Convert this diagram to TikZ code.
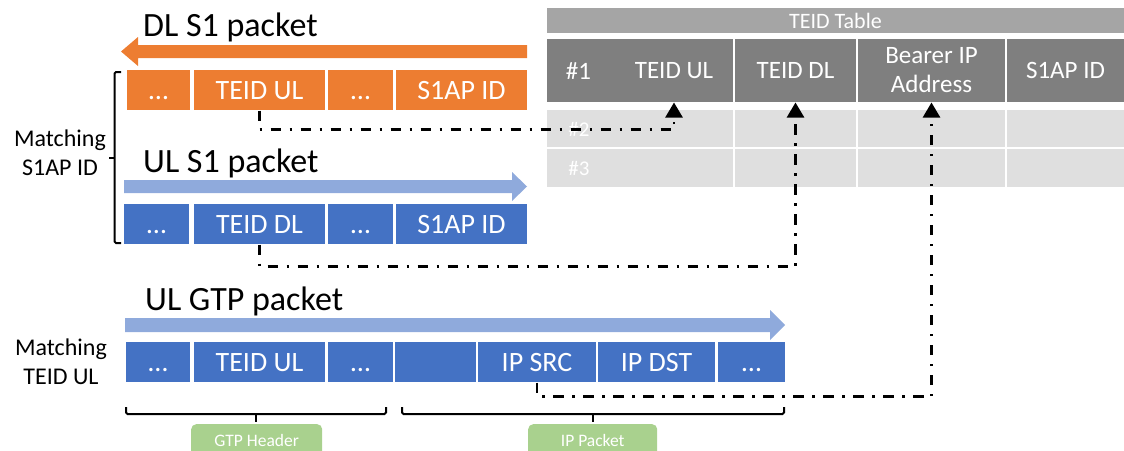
\documentclass[tikz,border=0pt]{standalone}
\usepackage{fontspec}
\setmainfont{Carlito}
\usetikzlibrary{arrows.meta}
\definecolor{cOr}{HTML}{ED7D31}
\definecolor{cBl}{HTML}{4472C4}
\definecolor{cLb}{HTML}{8FAADC}
\definecolor{cDg}{HTML}{7F7F7F}
\definecolor{cMg}{HTML}{A5A5A5}
\definecolor{cLg}{HTML}{DFDFDF}
\definecolor{cGr}{HTML}{A9D18E}
\begin{document}
\begin{tikzpicture}[x=1pt,y=-1pt,
  fbox/.style={inner sep=0pt, outer sep=0pt, anchor=north west, text=white,
    font=\fontsize{28}{30}\selectfont, draw=white, line width=1.5pt,
    text height=18pt, text depth=0pt},
  obox/.style={fbox, fill=cOr},
  bbox/.style={fbox, fill=cBl},
  tcell/.style={inner sep=0pt, outer sep=0pt, anchor=north west, draw=white, line width=1.5pt, fill=cDg},
  lcell/.style={inner sep=0pt, outer sep=0pt, anchor=north west, draw=white, line width=1.5pt, fill=cLg},
  ttext/.style={inner sep=0pt, text=white, font=\fontsize{25}{29}\selectfont, align=center},
  title/.style={inner sep=0pt, anchor=base west, font=\fontsize{34}{36}\selectfont},
  side/.style={inner sep=0pt, align=center, font=\fontsize{24}{29}\selectfont},
  dd/.style={line width=2.5pt, dash pattern=on 10.5pt off 8.5pt on 2.5pt off 8.5pt,
    -{Triangle[width=17pt,length=15pt]}},
  brk/.style={line width=2pt, rounded corners=1.5pt},
  glabel/.style={inner sep=0pt, anchor=north west, fill=cGr, rounded corners=5pt,
    text=white, font=\fontsize{17.5}{20}\selectfont, minimum height=32pt}
]
\useasboundingbox (0,0) rectangle (1124,450);

% ---- titles and arrows
\node[title] (t1) at (143,36) {DL S1 packet};
\node[title] (t2) at (143,172) {UL S1 packet};
\node[title] (t3) at (145,310) {UL GTP packet};

\fill[cOr] (527,45) -- (138,45) -- (138,37) -- (121,51.5) -- (138,66) -- (138,58) -- (527,58) -- cycle;
\fill[cLb] (124,180) -- (512,180) -- (512,172) -- (527,186.5) -- (512,201) -- (512,193) -- (124,193) -- cycle;
\fill[cLb] (125,318) -- (770,318) -- (770,310) -- (785,325) -- (770,340) -- (770,332) -- (125,332) -- cycle;

% ---- DL S1 packet fields
\node[obox, minimum width=65pt, minimum height=41pt] (o1) at (126,69.5) {…};
\node[obox, minimum width=132pt, minimum height=41pt] (o2) at (193.5,69.5) {TEID UL};
\node[obox, minimum width=66pt, minimum height=41pt] (o3) at (327.5,69.5) {…};
\node[obox, minimum width=132pt, minimum height=41pt] (o4) at (395.5,69.5) {S1AP ID};

% ---- UL S1 packet fields
\node[bbox, minimum width=67pt, minimum height=41pt] (b1) at (123,203.5) {…};
\node[bbox, minimum width=132pt, minimum height=41pt] (b2) at (193.5,203.5) {TEID DL};
\node[bbox, minimum width=66pt, minimum height=41pt] (b3) at (327.5,203.5) {…};
\node[bbox, minimum width=132pt, minimum height=41pt] (b4) at (395.5,203.5) {S1AP ID};

% ---- UL GTP packet fields
\node[bbox, minimum width=66pt, minimum height=41pt] (g1) at (125,341.5) {…};
\node[bbox, minimum width=132pt, minimum height=41pt] (g2) at (193.5,341.5) {TEID UL};
\node[bbox, minimum width=66pt, minimum height=41pt] (g3) at (327.5,341.5) {…};
\node[bbox, minimum width=82pt, minimum height=41pt] (g4) at (394.5,341.5) {};
\node[bbox, minimum width=119pt, minimum height=41pt] (g5) at (477.5,341.5) {IP SRC};
\node[bbox, minimum width=118pt, minimum height=41pt] (g6) at (597.5,341.5) {IP DST};
\node[bbox, minimum width=68pt, minimum height=41pt] (g7) at (717.5,341.5) {…};

% ---- side labels and brackets
\node[side] (m1) at (60,153) {Matching\\S1AP ID};
\node[side] (m2) at (61,362) {Matching\\TEID UL};
\draw[brk] (121,72) -- (114.5,72) -- (114.5,243) -- (121,243);
\draw[line width=2pt] (114.5,158) -- (109,158);

\draw[brk] (126,407) -- (126,414) -- (386,414) -- (386,407);
\draw[line width=2pt] (256,414) -- (256,422);
\draw[brk] (402,407) -- (402,414) -- (784,414) -- (784,407);
\draw[line width=2pt] (593,414) -- (593,422);

\node[glabel, minimum width=131pt] (gh) at (191,424) {GTP Header};
\node[glabel, minimum width=129pt] (ip) at (528,424) {IP Packet};

% ---- TEID table
\node[inner sep=0pt, outer sep=0pt, anchor=north west, fill=cMg, text=white,
  minimum width=578pt, minimum height=25pt, font=\fontsize{22}{24}\selectfont] (tt) at (546.5,8) {TEID Table};
\node[tcell, minimum width=188pt, minimum height=64pt] (h1) at (546.5,38.5) {};
\node[tcell, minimum width=123pt, minimum height=64pt] (h2) at (734,38.5) {};
\node[tcell, minimum width=149pt, minimum height=64pt] (h3) at (857,38.5) {};
\node[tcell, minimum width=119pt, minimum height=64pt] (h4) at (1006,38.5) {};
\node[ttext] (n1) at (578.5,71) {\#1};
\node[ttext] (tul) at (674,71) {TEID UL};
\node[ttext] (tdl) at (h2.center) {TEID DL};
\node[ttext] (bip) at (h3.center) {Bearer IP\\Address};
\node[ttext] (sid) at (h4.center) {S1AP ID};

\node[lcell, minimum width=188pt, minimum height=39pt] (r21) at (546.5,109.5) {};
\node[lcell, minimum width=123pt, minimum height=39pt] (r22) at (734,109.5) {};
\node[lcell, minimum width=149pt, minimum height=39pt] (r23) at (857,109.5) {};
\node[lcell, minimum width=119pt, minimum height=39pt] (r24) at (1006,109.5) {};
\node[lcell, minimum width=188pt, minimum height=40pt] (r31) at (546.5,148) {};
\node[lcell, minimum width=123pt, minimum height=40pt] (r32) at (734,148) {};
\node[lcell, minimum width=149pt, minimum height=40pt] (r33) at (857,148) {};
\node[lcell, minimum width=119pt, minimum height=40pt] (r34) at (1006,148) {};
\node[ttext, font=\fontsize{21}{24}\selectfont] (n2) at (579,129) {\#2};
\node[ttext, font=\fontsize{21}{24}\selectfont] (n3) at (579,168) {\#3};

% ---- connectors
\draw[dd] (o2.south) -- ++(0,19) -| (tul |- h1.south);
\draw[dd] (b2.south) -- ++(0,22) -| (h2.south);
\draw[dd] (g5.south) -- ++(0,14) -| (h3.south);
\end{tikzpicture}
\end{document}
